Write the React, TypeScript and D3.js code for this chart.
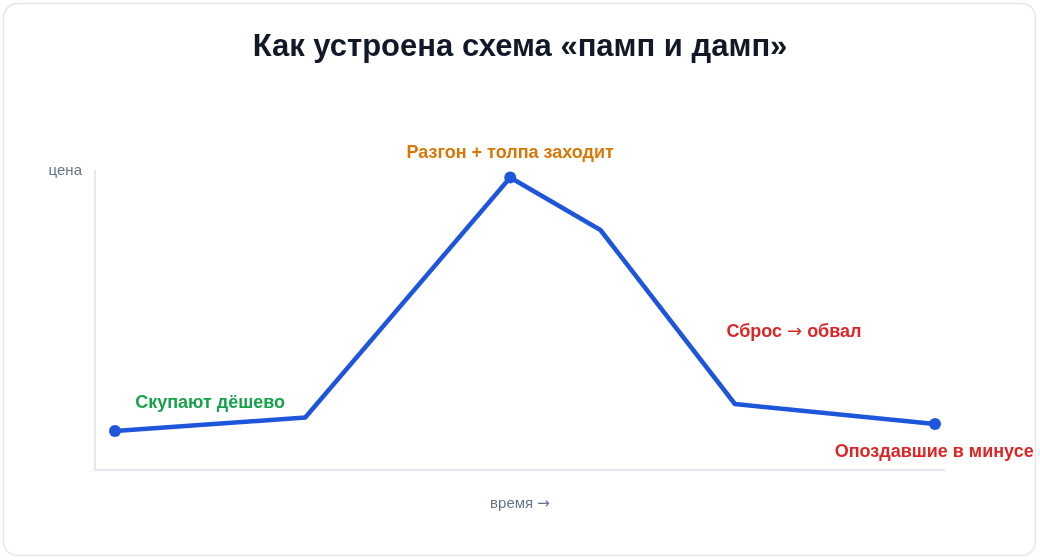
import React from "react";
import * as d3 from "d3";

const times = [0, 2.32, 4.82, 5.92, 7.56, 10];
const prices = [13, 17.5, 97.5, 80, 22, 15.3];
const markerIdx = [0, 2, 5];
const title = "Как устроена схема «памп и дамп»";
const yLabel = "цена";
const xLabel = "время →";
const annotations = [
  { text: "Скупают дёшево", t: 1.16, p: 20.8, color: "#16a34a" },
  { text: "Разгон + толпа заходит", t: 4.82, p: 104, color: "#d97706" },
  { text: "Сброс → обвал", t: 8.28, p: 44.3, color: "#dc2626" },
  { text: "Опоздавшие в минусе", t: 9.99, p: 4.3, color: "#dc2626" },
];

const font = "'Liberation Sans', Arial, Helvetica, sans-serif";
const arrowFont = "'DejaVu Sans', sans-serif";

function withArrow(s: string) {
  const parts = s.split("→");
  if (parts.length === 1) return s;
  return (
    <>
      {parts[0]}
      <tspan fontFamily={arrowFont} fontWeight="normal">→</tspan>
      {parts[1]}
    </>
  );
}

export default function App() {
  const W = 1040, H = 560;
  const x = d3.scaleLinear().domain([0, 10]).range([115, 935]);
  const y = d3.scaleLinear().domain([0, 100]).range([470, 170]);
  const pts = times.map((t, i) => [x(t), y(prices[i])] as [number, number]);
  const line = d3.line()(pts) || "";
  return (
    <div style={{ position: "fixed", left: 0, top: 0 }}>
      <svg width={W} height={H} style={{ display: "block", fontFamily: font }}>
        <rect x={3.5} y={3.5} width={1032} height={552} rx={14} fill="#fff" stroke="#e2e8f0" strokeWidth={1.5} />
        <text x={520} y={56} textAnchor="middle" fontSize={31} fontWeight="bold" fill="#111827">{title}</text>
        <line x1={95} y1={170} x2={95} y2={471} stroke="#e2e8f0" strokeWidth={2} />
        <line x1={94} y1={470} x2={945} y2={470} stroke="#e2e8f0" strokeWidth={2} />
        <text x={82} y={175} textAnchor="end" fontSize={15} fill="#64748b">{yLabel}</text>
        <text x={520} y={508} textAnchor="middle" fontSize={15} fill="#64748b">{withArrow(xLabel)}</text>
        <path d={line} fill="none" stroke="#1d56db" strokeWidth={4.5} strokeLinejoin="round" strokeLinecap="round" />
        {markerIdx.map((i) => (
          <circle key={i} cx={pts[i][0]} cy={pts[i][1]} r={6} fill="#1d56db" />
        ))}
        {annotations.map((a, i) => (
          <text key={i} x={x(a.t)} y={y(a.p)} textAnchor="middle" fontSize={18} fontWeight="bold" fill={a.color}>{withArrow(a.text)}</text>
        ))}
      </svg>
    </div>
  );
}
